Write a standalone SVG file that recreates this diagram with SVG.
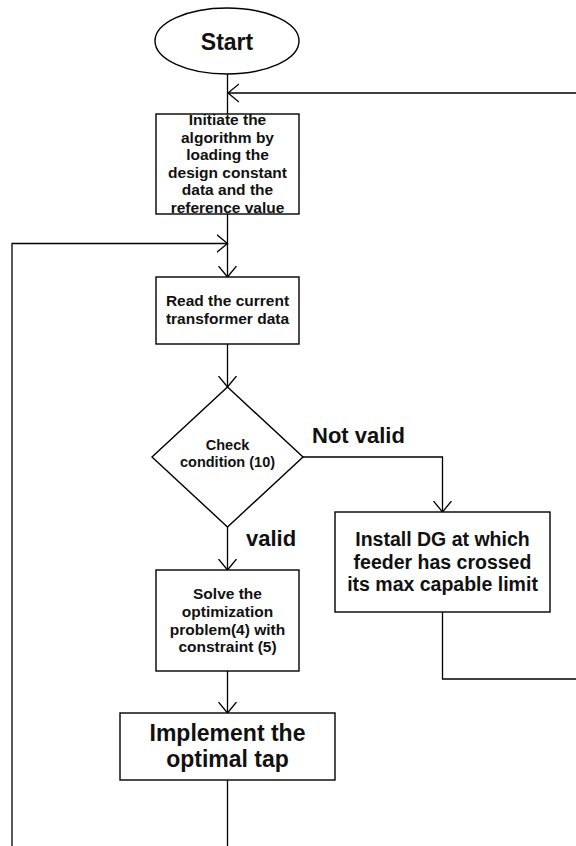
<svg xmlns="http://www.w3.org/2000/svg" width="576" height="846" viewBox="0 0 576 846">
<defs>
<style>
.shape{fill:#fff;stroke:#000;stroke-width:1.4}
.line{fill:none;stroke:#000;stroke-width:1.3}
text{font-family:"Liberation Sans",Arial,sans-serif;font-weight:bold;fill:#111;text-anchor:middle}
.t15{font-size:15.5px}
.t14{font-size:14.5px}
.t20{font-size:19.5px}
.t23{font-size:23px}
.lbl{font-size:22px;text-anchor:start}
</style>
<marker id="arr" viewBox="0 0 12 20" refX="11" refY="10" markerWidth="12" markerHeight="20" markerUnits="userSpaceOnUse" orient="auto">
<path d="M0,1 L11,10 L0,19" fill="none" stroke="#000" stroke-width="1.3"/>
</marker>
</defs>
<rect width="576" height="846" fill="#fff"/>
<g id="connectors">
<line class="line" x1="227.5" y1="74" x2="227.5" y2="114"/>
<line class="line" x1="576" y1="93" x2="228" y2="93" marker-end="url(#arr)"/>
<line class="line" x1="227.5" y1="214" x2="227.5" y2="277" marker-end="url(#arr)"/>
<polyline class="line" points="12,846 12,243.5 227.5,243.5" marker-end="url(#arr)"/>
<line class="line" x1="227.5" y1="344" x2="227.5" y2="387" marker-end="url(#arr)"/>
<line class="line" x1="227.5" y1="527" x2="227.5" y2="570" marker-end="url(#arr)"/>
<polyline class="line" points="303,457 442.5,457 442.5,512" marker-end="url(#arr)"/>
<polyline class="line" points="442.5,612 442.5,679 576,679"/>
<line class="line" x1="227.5" y1="671" x2="227.5" y2="713" marker-end="url(#arr)"/>
<line class="line" x1="227.5" y1="780" x2="227.5" y2="846"/>
</g>
<g id="start">
<ellipse class="shape" cx="227" cy="41" rx="72" ry="33"/>
<text class="t23" x="227" y="49.5">Start</text>
</g>
<g id="init">
<rect class="shape" x="156" y="114" width="143" height="100"/>
<text class="t15" x="227.5" y="125">Initiate the</text>
<text class="t15" x="227.5" y="142.5">algorithm by</text>
<text class="t15" x="227.5" y="160">loading the</text>
<text class="t15" x="227.5" y="177.5">design constant</text>
<text class="t15" x="227.5" y="195">data and the</text>
<text class="t15" x="227.5" y="212.5">reference value</text>
</g>
<g id="read">
<rect class="shape" x="156" y="277" width="143" height="67"/>
<text class="t15" x="227.5" y="306">Read the current</text>
<text class="t15" x="227.5" y="324">transformer data</text>
</g>
<g id="check">
<polygon class="shape" points="227.5,387 303,457 227.5,527 152,457"/>
<text class="t14" x="227.5" y="449.5">Check</text>
<text class="t14" x="227.5" y="467">condition (10)</text>
</g>
<g id="labels">
<text class="lbl" x="312" y="443">Not valid</text>
<text class="lbl" x="246" y="546">valid</text>
</g>
<g id="install">
<rect class="shape" x="335" y="512" width="215" height="100"/>
<text class="t20" x="442.5" y="546">Install DG at which</text>
<text class="t20" x="442.5" y="568.5">feeder has crossed</text>
<text class="t20" x="442.5" y="590.5">its max capable limit</text>
</g>
<g id="solve">
<rect class="shape" x="156" y="570" width="143" height="101"/>
<text class="t15" x="227.5" y="599">Solve the</text>
<text class="t15" x="227.5" y="617">optimization</text>
<text class="t15" x="227.5" y="634.5">problem(4) with</text>
<text class="t15" x="227.5" y="652">constraint (5)</text>
</g>
<g id="implement">
<rect class="shape" x="120" y="713" width="215" height="67"/>
<text class="t23" x="227.5" y="740.5">Implement the</text>
<text class="t23" x="227.5" y="767">optimal tap</text>
</g>
</svg>
